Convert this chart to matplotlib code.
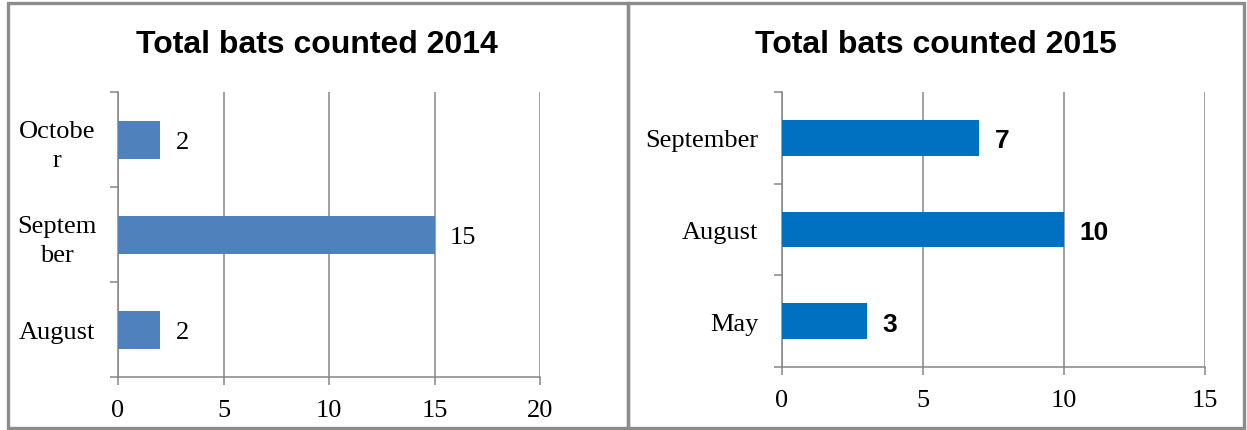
import matplotlib.pyplot as plt
from matplotlib.patches import Rectangle

# data
months_2014 = ["August", "Septem\nber", "Octobe\nr"]
bats_2014 = [2, 15, 2]
months_2015 = ["May", "August", "September"]
bats_2015 = [3, 10, 7]

W, H = 1247, 431
grey = "#868686"
fig = plt.figure(figsize=(W / 100, H / 100), dpi=100)


def px_axes(x0, x1, ytop, ybot):
    return fig.add_axes([x0 / W, 1 - ybot / H, (x1 - x0) / W, (ybot - ytop) / H])


def setup(ax, xmax, labels, ha, pad):
    ax.set_xlim(0, xmax)
    ax.set_ylim(0, 3)
    ax.set_xticks(range(0, xmax + 1, 5))
    ax.set_yticks([0, 1, 2, 3])
    ax.set_yticklabels([])
    ax.set_yticks([0.5, 1.5, 2.5], minor=True)
    ax.set_yticklabels(labels, minor=True, ha=ha, va="center_baseline",
                       fontsize=19, family="Liberation Serif")
    for t in ax.get_yticklabels(minor=True):
        t.set_linespacing(1.4)
    ax.tick_params(axis="y", which="minor", length=0, pad=pad)
    ax.tick_params(axis="y", which="major", length=6, width=1.1, color=grey)
    ax.tick_params(axis="x", length=6, width=1.1, color=grey, pad=10)
    for t in ax.get_xticklabels():
        t.set_family("Liberation Serif")
        t.set_fontsize(19)
    ax.grid(axis="x", color=grey, lw=1.1)
    ax.set_axisbelow(True)
    for s in ["top", "right"]:
        ax.spines[s].set_visible(False)
    for s in ["left", "bottom"]:
        ax.spines[s].set_color(grey)
        ax.spines[s].set_linewidth(1.1)


# 2014 chart
ax1 = px_axes(118, 540, 93, 378)
setup(ax1, 20, months_2014, "center", 44)
pos = [0.5, 1.5, 2.5]
ax1.barh(pos, bats_2014, height=0.4, color="#4F81BD", zorder=3)
for y, v in zip(pos, bats_2014):
    ax1.annotate(str(v), (v, y), xytext=(11, 0), textcoords="offset points",
                 va="center_baseline", ha="left", fontsize=19,
                 family="Liberation Serif")

# 2015 chart
ax2 = px_axes(782, 1205, 93, 368)
setup(ax2, 15, months_2015, "right", 17)
ax2.barh(pos, bats_2015, height=0.39, color="#0070C0", zorder=3)
for y, v in zip(pos, bats_2015):
    ax2.annotate(str(v), (v, y), xytext=(11, 0), textcoords="offset points",
                 va="center_baseline", ha="left", fontsize=19, fontweight="bold",
                 family="Liberation Sans")

# titles
fig.text(317 / W, 1 - 45 / H, "Total bats counted 2014", ha="center", va="center",
         fontsize=23, fontweight="bold", family="Liberation Sans")
fig.text(936 / W, 1 - 45 / H, "Total bats counted 2015", ha="center", va="center",
         fontsize=23, fontweight="bold", family="Liberation Sans")

# panel frames
for x0, x1 in [(8, 628), (628, 1244)]:
    fig.patches.append(Rectangle((x0 / W, 1 - 429 / H), (x1 - x0) / W, 425 / H,
                                 transform=fig.transFigure, fill=False,
                                 edgecolor="#8c8c8c", lw=2.4))

fig.savefig("out.png", dpi=100)
